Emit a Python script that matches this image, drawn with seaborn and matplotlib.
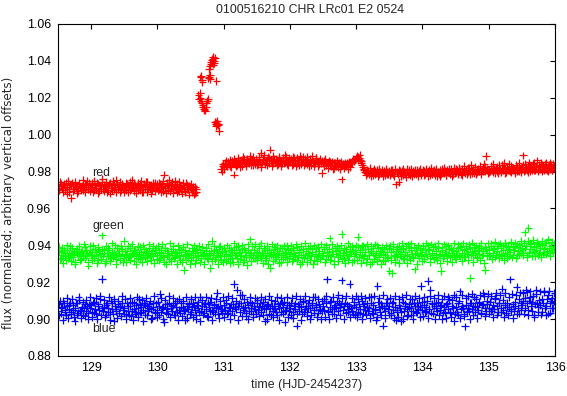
import numpy as np
import pandas as pd
import seaborn as sns
import matplotlib
matplotlib.use("Agg")
import matplotlib.pyplot as plt

T_START = 128.5   # first sample, HJD-2454237
T_STEP = 0.02     # sampling step in days
T_START_B = 128.51  # second interleaved set of samples

# flux x 1e4, one row per half day (25 samples)
red_flux = [
    9720, 9705, 9735, 9710, 9725, 9700, 9740, 9715, 9690, 9730, 9658, 9720, 9705, 9745, 9715, 9695, 9730, 9710, 9725, 9700, 9735, 9715, 9750, 9705, 9725,
    9715, 9740, 9700, 9725, 9710, 9735, 9695, 9720, 9745, 9705, 9730, 9715, 9690, 9725, 9740, 9710, 9700, 9730, 9715, 9755, 9705, 9725, 9690, 9735, 9710,
    9720, 9700, 9735, 9715, 9745, 9705, 9725, 9695, 9730, 9710, 9740, 9715, 9700, 9725, 9690, 9735, 9715, 9745, 9705, 9720, 9730, 9700, 9715, 9740, 9710,
    9725, 9705, 9735, 9715, 9695, 9784, 9720, 9740, 9700, 9730, 9710, 9745, 9685, 9725, 9715, 9735, 9695, 9720, 9705, 9740, 9715, 9690, 9730, 9705, 9725,
    9710, 9690, 9720, 9685, 9705, None, None, None, None, None, None, None, None, None, None, None, None, None, None, None, None, None, None, 9815, 9830,
    9825, 9845, 9835, 9855, 9840, 9830, 9860, 9845, 9784, 9850, 9835, 9865, 9845, 9855, 9830, 9870, 9850, 9840, 9860, 9845, 9875, 9850, 9835, 9860, 9845,
    9855, 9840, 9865, 9900, 9850, 9870, 9845, 9860, 9835, 9875, 9919, 9855, 9845, 9870, 9850, 9860, 9840, 9875, 9855, 9845, 9865, 9850, 9880, 9840, 9860,
    9850, 9865, 9840, 9875, 9855, 9845, 9860, 9835, 9870, 9850, 9880, 9845, 9860, 9840, 9855, 9870, 9835, 9865, 9850, 9845, 9875, 9855, 9840, 9860, 9793,
    9845, 9860, 9835, 9850, 9840, 9855, 9830, 9845, 9820, 9850, 9835, 9825, 9845, 9830, 9757, 9840, 9825, 9835, 9845, 9830, 9840, 9850, 9845, 9860, 9865,
    9870, 9880, 9875, 9865, 9845, 9825, 9810, 9800, 9790, 9805, 9785, 9800, 9795, 9780, 9805, 9790, 9810, 9785, 9800, 9795, 9775, 9805, 9790, 9800, 9785,
    9800, 9790, 9810, 9785, 9800, 9730, 9795, 9745, 9805, 9790, 9780, 9800, 9795, 9815, 9785, 9800, 9790, 9775, 9805, 9795, 9785, 9810, 9790, 9800, 9780,
    9795, 9805, 9785, 9800, 9790, 9810, 9780, 9795, 9805, 9790, 9800, 9775, 9795, 9810, 9785, 9800, 9790, 9805, 9780, 9795, 9815, 9790, 9800, 9785, 9805,
    9795, 9810, 9790, 9800, 9785, 9815, 9800, 9790, 9805, 9795, 9820, 9785, 9800, 9810, 9790, 9805, 9795, 9815, 9800, 9785, 9810, 9800, 9825, 9883, 9805,
    9810, 9800, 9820, 9795, 9815, 9805, 9825, 9790, 9810, 9800, 9835, 9805, 9815, 9795, 9820, 9810, 9800, 9830, 9805, 9815, 9795, 9825, 9810, 9800, 9820,
    9815, 9888, 9805, 9825, 9810, 9830, 9800, 9820, 9815, 9845, 9805, 9825, 9810, 9835, 9815, 9800, 9830, 9820, 9850, 9810, 9825, 9815, 9835, 9805, 9820,
]
red_flux_b = [
    9700, 9745, 9725, 9690, 9735, 9715, 9680, 9750, 9705, 9725, 9740, 9695, 9730, 9710, 9685, 9740, 9720, 9700, 9755, 9715, 9690, 9730, 9705, 9740, 9695,
    9730, 9690, 9750, 9710, 9740, 9685, 9725, 9705, 9760, 9695, 9720, 9745, 9700, 9735, 9680, 9725, 9750, 9705, 9690, 9735, 9715, 9745, 9700, 9725, 9690,
    9705, 9740, 9690, 9725, 9700, 9755, 9715, 9740, 9685, 9725, 9700, 9735, 9750, 9690, 9720, 9705, 9745, 9690, 9730, 9710, 9680, 9740, 9725, 9695, 9735,
    9700, 9740, 9690, 9730, 9750, 9710, 9685, 9725, 9755, 9695, 9735, 9705, 9720, 9750, 9690, 9700, 9745, 9710, 9680, 9725, 9695, 9740, 9705, 9675, 9715,
    9735, 9700, 9675, 9715, 9690, None, None, None, None, None, None, None, None, None, None, None, None, None, None, None, None, None, None, 9800, 9840,
    9815, 9860, 9830, 9845, 9865, 9825, 9850, 9870, 9840, 9830, 9875, 9850, 9825, 9865, 9880, 9845, 9830, 9870, 9855, 9885, 9835, 9860, 9880, 9840, 9870,
    9835, 9880, 9850, 9825, 9870, 9890, 9840, 9865, 9880, 9845, 9860, 9830, 9885, 9850, 9870, 9835, 9880, 9860, 9830, 9875, 9845, 9890, 9855, 9835, 9875,
    9870, 9835, 9880, 9855, 9830, 9875, 9865, 9885, 9840, 9860, 9835, 9870, 9880, 9850, 9830, 9865, 9885, 9845, 9830, 9875, 9855, 9830, 9870, 9845, 9860,
    9830, 9870, 9850, 9820, 9860, 9835, 9855, 9815, 9845, 9830, 9860, 9840, 9815, 9855, 9835, 9820, 9850, 9830, 9815, 9855, 9825, 9860, 9870, 9855, 9875,
    9885, 9860, 9890, 9855, 9835, 9815, 9800, 9780, 9810, 9790, 9820, 9775, 9805, 9815, 9785, 9800, 9775, 9815, 9790, 9810, 9795, 9780, 9815, 9785, 9805,
    9780, 9810, 9795, 9775, 9815, 9800, 9785, 9810, 9775, 9805, 9815, 9785, 9770, 9800, 9810, 9780, 9815, 9795, 9785, 9810, 9800, 9775, 9805, 9815, 9795,
    9810, 9780, 9815, 9795, 9775, 9800, 9820, 9785, 9810, 9780, 9815, 9800, 9785, 9775, 9815, 9795, 9820, 9780, 9810, 9800, 9785, 9815, 9775, 9820, 9790,
    9815, 9785, 9820, 9805, 9780, 9800, 9830, 9810, 9785, 9820, 9800, 9835, 9790, 9815, 9825, 9785, 9810, 9800, 9830, 9795, 9820, 9840, 9800, 9815, 9790,
    9795, 9830, 9805, 9840, 9790, 9820, 9800, 9835, 9815, 9795, 9820, 9845, 9790, 9825, 9810, 9840, 9795, 9815, 9820, 9790, 9835, 9800, 9845, 9815, 9795,
    9835, 9800, 9840, 9815, 9795, 9850, 9825, 9805, 9840, 9810, 9830, 9860, 9800, 9825, 9850, 9835, 9805, 9840, 9815, 9800, 9835, 9850, 9810, 9840, 9830,
]

green_flux = [
    9350, 9370, 9330, 9385, 9345, 9360, 9320, 9375, 9340, 9395, 9355, 9335, 9365, 9310, 9380, 9345, 9360, 9325, 9370, 9350, 9390, 9340, 9360, 9290, 9375,
    9345, 9365, 9330, 9380, 9350, 9320, 9370, 9355, 9454, 9340, 9375, 9315, 9360, 9385, 9345, 9330, 9365, 9350, 9400, 9325, 9355, 9370, 9340, 9380, 9310,
    9425, 9350, 9370, 9335, 9385, 9345, 9360, 9315, 9375, 9340, 9395, 9355, 9325, 9365, 9345, 9380, 9330, 9360, 9350, 9405, 9320, 9370, 9340, 9360, 9385,
    9345, 9365, 9330, 9375, 9350, 9310, 9385, 9340, 9360, 9325, 9370, 9345, 9395, 9335, 9360, 9350, 9380, 9320, 9365, 9340, 9265, 9375, 9355, 9330, 9370,
    9350, 9385, 9335, 9360, 9320, 9375, 9345, 9365, 9330, 9390, 9355, 9340, 9370, 9325, 9360, 9276, 9422, 9345, 9375, 9335, 9360, 9350, 9395, 9320, 9365,
    9340, 9370, 9355, 9325, 9385, 9345, 9365, 9310, 9375, 9350, 9330, 9395, 9360, 9340, 9380, 9320, 9365, 9350, 9405, 9335, 9432, 9360, 9345, 9375, 9330,
    9365, 9345, 9385, 9330, 9360, 9350, 9375, 9320, 9395, 9340, 9276, 9365, 9355, 9380, 9325, 9360, 9345, 9370, 9310, 9385, 9350, 9335, 9365, 9400, 9340,
    9355, 9375, 9325, 9360, 9345, 9390, 9335, 9365, 9350, 9310, 9380, 9345, 9370, 9330, 9360, 9395, 9340, 9365, 9320, 9355, 9385, 9345, 9370, 9335, 9360,
    9345, 9380, 9325, 9365, 9350, 9438, 9340, 9370, 9315, 9385, 9355, 9335, 9375, 9345, 9463, 9360, 9330, 9380, 9350, 9320, 9370, 9355, 9395, 9340, 9365,
    9355, 9445, 9335, 9375, 9350, 9395, 9340, 9365, 9325, 9380, 9350, 9370, 9310, 9385, 9345, 9360, 9400, 9335, 9370, 9355, 9320, 9380, 9345, 9365, 9330,
    9260, 9365, 9250, 9380, 9345, 9370, 9335, 9395, 9355, 9340, 9385, 9325, 9365, 9350, 9405, 9340, 9375, 9355, 9330, 9270, 9385, 9360, 9345, 9375, 9350,
    9365, 9340, 9380, 9355, 9400, 9375, 9330, 9360, 9390, 9345, 9370, 9320, 9385, 9355, 9260, 9375, 9340, 9365, 9395, 9350, 9380, 9335, 9360, 9375, 9345,
    9370, 9350, 9385, 9340, 9395, 9360, 9375, 9335, 9380, 9355, 9405, 9222, 9365, 9345, 9390, 9360, 9330, 9375, 9355, 9385, 9345, 9370, 9265, 9380, 9360,
    9375, 9345, 9395, 9360, 9380, 9335, 9370, 9405, 9355, 9385, 9340, 9375, 9360, 9395, 9330, 9380, 9365, 9410, 9350, 9375, 9390, 9345, 9370, 9400, 9360,
    9385, 9360, 9470, 9395, 9350, 9495, 9380, 9405, 9365, 9390, 9340, 9375, 9410, 9360, 9385, 9400, 9355, 9380, 9415, 9370, 9432, 9360, 9395, 9375, 9390,
]
green_flux_b = [
    9390, 9325, 9365, 9305, 9375, 9340, 9400, 9330, 9360, 9315, 9385, 9345, 9300, 9370, 9355, 9395, 9320, 9365, 9340, 9405, 9330, 9375, 9310, 9355, 9395,
    9320, 9400, 9340, 9365, 9305, 9390, 9355, 9325, 9380, 9360, 9305, 9395, 9340, 9375, 9315, 9410, 9335, 9360, 9300, 9385, 9345, 9320, 9395, 9355, 9330,
    9370, 9310, 9395, 9340, 9320, 9405, 9355, 9375, 9300, 9365, 9330, 9390, 9345, 9310, 9400, 9335, 9370, 9315, 9385, 9340, 9360, 9395, 9305, 9375, 9325,
    9395, 9320, 9360, 9405, 9335, 9385, 9300, 9370, 9345, 9410, 9315, 9380, 9330, 9365, 9300, 9400, 9340, 9375, 9310, 9390, 9345, 9320, 9405, 9360, 9300,
    9320, 9370, 9400, 9305, 9380, 9340, 9395, 9310, 9375, 9345, 9300, 9385, 9330, 9405, 9345, 9370, 9315, 9395, 9325, 9380, 9300, 9390, 9340, 9370, 9310,
    9385, 9315, 9400, 9340, 9305, 9375, 9330, 9410, 9345, 9390, 9300, 9365, 9325, 9400, 9310, 9385, 9335, 9295, 9375, 9360, 9315, 9395, 9330, 9405, 9350,
    9320, 9395, 9340, 9410, 9305, 9385, 9330, 9360, 9300, 9375, 9345, 9405, 9315, 9390, 9335, 9400, 9305, 9385, 9345, 9325, 9395, 9360, 9310, 9380, 9330,
    9395, 9315, 9385, 9340, 9405, 9320, 9375, 9300, 9395, 9345, 9330, 9410, 9310, 9385, 9350, 9320, 9380, 9300, 9400, 9340, 9315, 9390, 9325, 9405, 9345,
    9390, 9310, 9400, 9340, 9380, 9320, 9405, 9355, 9300, 9370, 9395, 9315, 9360, 9400, 9325, 9385, 9305, 9365, 9410, 9340, 9390, 9310, 9375, 9320, 9400,
    9320, 9390, 9365, 9305, 9400, 9330, 9380, 9310, 9405, 9345, 9300, 9395, 9360, 9325, 9405, 9315, 9385, 9345, 9300, 9390, 9365, 9315, 9400, 9335, 9385,
    9395, 9320, 9405, 9340, 9310, 9390, 9360, 9305, 9380, 9410, 9330, 9365, 9395, 9305, 9385, 9320, 9410, 9335, 9390, 9355, 9300, 9400, 9330, 9385, 9315,
    9395, 9325, 9410, 9340, 9380, 9310, 9405, 9350, 9325, 9395, 9335, 9410, 9345, 9305, 9390, 9330, 9405, 9355, 9315, 9400, 9340, 9385, 9310, 9410, 9335,
    9325, 9405, 9345, 9390, 9315, 9410, 9335, 9395, 9355, 9320, 9385, 9345, 9415, 9310, 9370, 9400, 9335, 9395, 9320, 9410, 9350, 9305, 9390, 9340, 9410,
    9340, 9410, 9325, 9385, 9420, 9350, 9395, 9330, 9410, 9345, 9400, 9320, 9415, 9355, 9390, 9340, 9420, 9335, 9395, 9415, 9330, 9405, 9350, 9385, 9425,
    9345, 9415, 9380, 9335, 9425, 9360, 9410, 9340, 9430, 9370, 9395, 9420, 9345, 9405, 9335, 9425, 9365, 9410, 9350, 9430, 9385, 9340, 9420, 9365, 9410,
]

blue_flux = [
    9045, 9080, 9030, 9065, 9100, 9050, 9020, 9070, 9055, 9090, 9040, 9075, 9010, 9060, 9085, 9035, 9105, 9050, 9065, 9025, 9080, 9045, 9070, 9000, 9060,
    9075, 9040, 9095, 9055, 9030, 9070, 9050, 9110, 9216, 9045, 9065, 9025, 9085, 9060, 9040, 9100, 9055, 8990, 9070, 9045, 9080, 9035, 9065, 9125, 9050,
    9060, 9030, 9085, 9045, 9070, 9015, 9095, 9055, 9040, 9075, 9060, 9110, 9035, 9065, 9050, 9090, 9025, 9070, 9045, 9080, 9055, 9005, 9065, 9040, 9085,
    9050, 9070, 9135, 9040, 9065, 8985, 9080, 9055, 9030, 9090, 9060, 9045, 9075, 9020, 9065, 9100, 9050, 9035, 9085, 9060, 9045, 8995, 9070, 9055, 9080,
    9040, 9065, 9090, 9050, 9025, 9075, 9060, 9120, 9045, 9070, 9035, 9085, 9055, 9010, 9065, 9095, 9050, 9040, 9080, 9060, 9140, 9030, 9070, 9055, 9045,
    9075, 9050, 9090, 9035, 9065, 9060, 9045, 9080, 9190, 9055, 9160, 9070, 9040, 9085, 9130, 9050, 9065, 9015, 9075, 9045, 9095, 9060, 9030, 9070, 9055,
    9085, 9050, 9065, 9040, 9070, 9095, 8990, 9055, 9075, 9030, 9060, 9105, 9045, 9070, 9055, 9020, 9080, 9060, 9040, 9090, 9065, 8985, 9050, 9075, 9045,
    9060, 9090, 9040, 9070, 9055, 8965, 9080, 9045, 9065, 9030, 9100, 9055, 9070, 9040, 9085, 9060, 9025, 9075, 9050, 9120, 9065, 9035, 9080, 9055, 9045,
    9070, 9050, 9085, 9215, 9040, 9065, 9100, 9055, 9030, 9075, 9060, 9045, 9090, 9065, 9210, 9050, 9070, 9035, 9080, 9055, 9190, 9060, 9045, 9075, 9020,
    9065, 9040, 9080, 9055, 9100, 9030, 9070, 9050, 9085, 9045, 9060, 9120, 9035, 9075, 9055, 8995, 9180, 9065, 9040, 9085, 8965, 9060, 9045, 9090, 9055,
    9070, 9035, 9085, 9050, 9065, 8995, 9040, 9075, 9060, 8990, 9095, 9045, 9070, 9055, 9025, 9080, 9060, 9110, 9045, 9070, 9035, 9090, 9055, 9065, 9180,
    9050, 9075, 9040, 9065, 9205, 9055, 9160, 9085, 9030, 9070, 9060, 9045, 9095, 9050, 9075, 9000, 9065, 9040, 9080, 9055, 9110, 9035, 9070, 9060, 8990,
    9065, 9040, 9085, 9150, 9055, 9070, 9030, 8960, 9075, 9060, 9045, 9090, 9055, 9070, 9120, 9040, 9065, 9050, 9085, 9035, 9075, 9140, 9060, 9045, 9080,
    9060, 9095, 9045, 9075, 9055, 9110, 9070, 9040, 9085, 9060, 9165, 9050, 9075, 9035, 9090, 9065, 9215, 9055, 9080, 9045, 9070, 9175, 9060, 9030, 9085,
    9075, 9100, 9060, 9160, 9085, 9050, 9120, 9070, 9095, 9025, 9080, 9160, 9065, 9105, 9075, 9040, 9090, 9155, 9070, 9110, 9030, 9085, 9100, 9060, 9095,
]
blue_flux_b = [
    9020, 9100, 9060, 8995, 9085, 9040, 9115, 9005, 9075, 9030, 9110, 9050, 8990, 9090, 9025, 9120, 9045, 9005, 9095, 9060, 9015, 9105, 9035, 9080, 9120,
    9010, 9090, 9035, 9115, 9000, 9080, 9125, 9020, 9060, 9105, 9010, 9075, 9040, 9120, 8995, 9085, 9030, 9110, 9055, 9005, 9100, 9070, 9015, 9090, 9030,
    9110, 9000, 9070, 9025, 9115, 9045, 8995, 9090, 9030, 9120, 9010, 9080, 9040, 9105, 8990, 9075, 9115, 9020, 9060, 9100, 9000, 9085, 9125, 9035, 9010,
    9095, 9020, 9115, 9060, 9000, 9105, 9035, 9080, 9125, 9010, 9070, 9115, 9025, 9090, 9040, 8995, 9110, 9065, 9015, 9100, 9050, 9120, 9005, 9085, 9030,
    9110, 9010, 9070, 9120, 9000, 9095, 9040, 8990, 9105, 9025, 9080, 9120, 9015, 9090, 9045, 9115, 8995, 9075, 9030, 9110, 9065, 9005, 9100, 9035, 9120,
    9010, 9105, 9030, 9125, 9000, 9080, 9115, 9020, 9065, 9100, 8995, 9085, 9130, 9015, 9060, 9110, 9035, 9095, 9000, 9120, 9045, 9085, 9010, 9115, 9030,
    9105, 9015, 9090, 9120, 9025, 9060, 9110, 9000, 9080, 9125, 9020, 9070, 9010, 9100, 9040, 9120, 8995, 9085, 9115, 9030, 9095, 9045, 9120, 9010, 9075,
    9020, 9115, 9005, 9085, 9125, 9030, 9070, 9110, 8995, 9095, 9040, 9125, 9015, 9060, 9105, 9000, 9090, 9120, 9035, 9075, 9010, 9110, 9050, 9000, 9100,
    9110, 9010, 9125, 9045, 9000, 9095, 9030, 9120, 9065, 9005, 9100, 9130, 9020, 9080, 9115, 9000, 9090, 9125, 9040, 9070, 9010, 9115, 9030, 9095, 9125,
    9010, 9110, 9035, 9125, 9000, 9080, 9115, 9025, 9065, 9120, 9005, 9090, 9030, 9125, 9050, 9010, 9095, 9115, 9020, 9070, 9130, 9005, 9085, 9110, 9025,
    9115, 9020, 9095, 9005, 9125, 9050, 9010, 9110, 9040, 9120, 9000, 9085, 9130, 9015, 9065, 9110, 9025, 9000, 9090, 9125, 9040, 9070, 9115, 9010, 9095,
    9015, 9120, 9045, 9100, 9005, 9125, 9035, 9080, 9115, 9000, 9090, 9130, 9020, 9070, 9110, 9035, 9125, 9005, 9085, 9120, 9040, 9010, 9105, 9130, 9030,
    9120, 9025, 9100, 9005, 9130, 9060, 9015, 9115, 9040, 9125, 9000, 9090, 9135, 9020, 9070, 9110, 9005, 9095, 9130, 9030, 9080, 9125, 9015, 9100, 9135,
    9030, 9125, 9055, 9010, 9115, 9140, 9025, 9090, 9130, 9040, 9105, 9010, 9140, 9065, 9020, 9120, 9045, 9135, 9005, 9095, 9130, 9030, 9110, 9145, 9050,
    9140, 9030, 9115, 9145, 9020, 9100, 9150, 9045, 9125, 9010, 9135, 9085, 9040, 9150, 9025, 9110, 9145, 9060, 9020, 9130, 9155, 9035, 9115, 9060, 9140,
]

# flare samples in the red band (irregular, read point by point)
flare_time = [130.62, 130.63, 130.64, 130.65, 130.66, 130.67, 130.68, 130.69, 130.70, 130.71,
              130.72, 130.73, 130.74, 130.75, 130.76,
              130.65, 130.66, 130.67, 130.68, 130.77, 130.78, 130.79, 130.80, 130.89,
              130.78, 130.79, 130.80, 130.81, 130.82, 130.83, 130.84, 130.85, 130.86, 130.87, 130.84,
              130.87, 130.88, 130.89, 130.90, 130.91, 130.92, 130.90, 130.93, 130.88]
flare_flux = [1.0215, 1.0195, 1.0225, 1.0200, 1.0185, 1.0170, 1.0160, 1.0150, 1.0140, 1.0135,
              1.0130, 1.0150, 1.0170, 1.0185, 1.0195,
              1.0310, 1.0320, 1.0295, 1.0285, 1.0305, 1.0315, 1.0325, 1.0300, 1.0290,
              1.0355, 1.0370, 1.0385, 1.0395, 1.0405, 1.0410, 1.0420, 1.0400, 1.0390, 1.0415, 1.0380,
              1.0070, 1.0060, 1.0065, 1.0055, 1.0050, 1.0060, 1.0075, 1.0020, 1.0045]

band_colors = {"red": "#ff0000", "green": "#00ff00", "blue": "#0000ff"}

frames = []
series = [("red", T_START, red_flux), ("red", T_START_B, red_flux_b),
          ("green", T_START, green_flux), ("green", T_START_B, green_flux_b),
          ("blue", T_START, blue_flux), ("blue", T_START_B, blue_flux_b)]
for name, t0, vals in series:
    t = t0 + T_STEP * np.arange(len(vals))
    frames.append(pd.DataFrame({"time": t, "flux": pd.Series(vals, dtype=float) / 1e4, "band": name}))
frames.append(pd.DataFrame({"time": flare_time, "flux": flare_flux, "band": "red"}))
df = pd.concat(frames, ignore_index=True).dropna()

sns.set_style("white")
plt.rcParams["font.family"] = ["Liberation Sans", "DejaVu Sans"]
plt.rcParams["font.size"] = 8.9

fig = plt.figure(figsize=(5.67, 3.96), dpi=100)
ax = fig.add_axes([58 / 567, 1 - 356 / 396, 497 / 567, 332 / 396])

sns.scatterplot(data=df, x="time", y="flux", hue="band", palette=band_colors,
                marker="+", s=30, linewidth=0.9, legend=False, ax=ax)

ax.set_xlim(128.5, 136)
ax.set_ylim(0.88, 1.06)
ax.set_xticks(np.arange(129, 137))
yt = np.arange(0.88, 1.0601, 0.02)
ax.set_yticks(yt)
ax.set_yticklabels(["%.2f" % v for v in yt])
ax.tick_params(direction="in", length=3.6, width=0.8, top=True, right=True,
               colors="black", labelsize=8.9)
ax.tick_params(axis="y", pad=5)
ax.tick_params(axis="x", pad=4)
for sp in ax.spines.values():
    sp.set_color("black")
    sp.set_linewidth(0.8)

ax.set_xlabel("time (HJD-2454237)", fontsize=8.9)
ax.set_ylabel("flux (normalized; arbitrary vertical offsets)", fontsize=8.5, family="DejaVu Sans")
ax.xaxis.set_label_coords(0.5, -0.069)
ax.yaxis.set_label_coords(-0.0875, 0.462)

ax.text(129.02, 0.9775, "red", fontsize=8.9, va="baseline")
ax.text(129.02, 0.9486, "green", fontsize=8.9, va="baseline")
ax.text(129.02, 0.8932, "blue", fontsize=8.9, va="baseline")

fig.text(310 / 567, 1 - 10 / 396, "0100516210 CHR LRc01 E2 0524", ha="center", va="center", fontsize=8.9)

fig.savefig("out.png", dpi=100)
